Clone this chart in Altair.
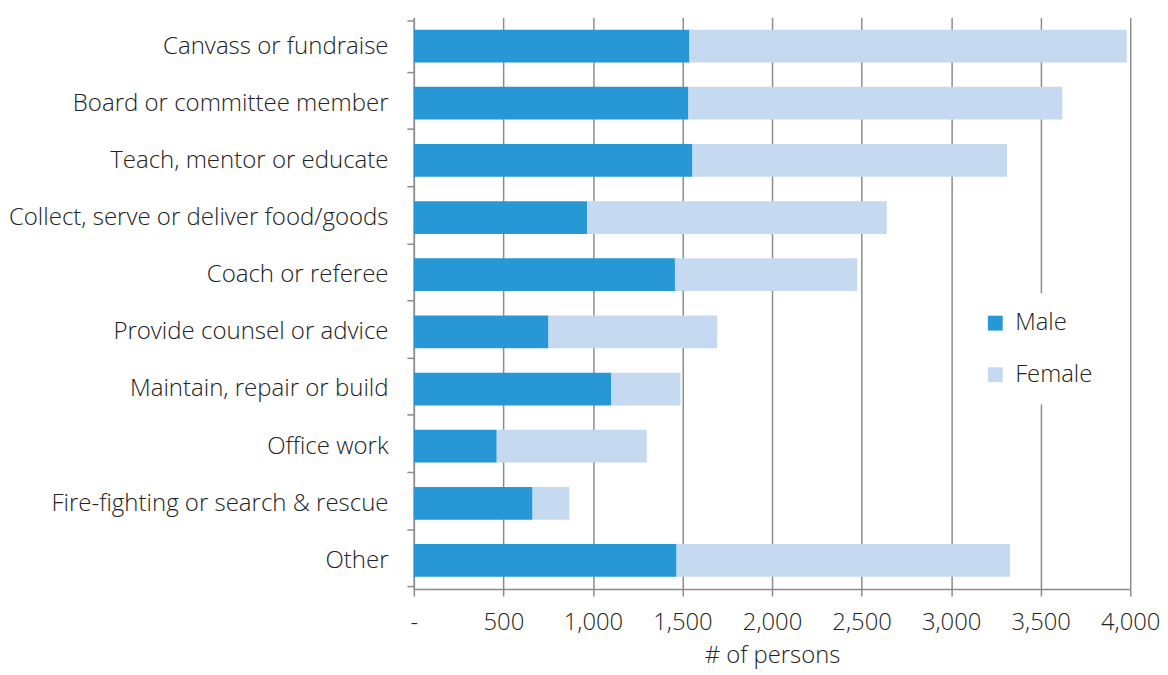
import altair as alt
import pandas as pd

categories = [
    "Canvass or fundraise",
    "Board or committee member",
    "Teach, mentor or educate",
    "Collect, serve or deliver food/goods",
    "Coach or referee",
    "Provide counsel or advice",
    "Maintain, repair or build",
    "Office work",
    "Fire-fighting or search & rescue",
    "Other",
]
male = [1539, 1533, 1556, 968, 1458, 752, 1101, 463, 663, 1467]
female = [2442, 2088, 1756, 1673, 1018, 942, 388, 838, 205, 1862]
series = ["Male", "Female"]
colors = ["#2897d5", "#c5daf0"]

rows = []
for c, m, f in zip(categories, male, female):
    rows.append({"activity": c, "sex": "Male", "persons": m, "ord": 0})
    rows.append({"activity": c, "sex": "Female", "persons": f, "ord": 1})
df = pd.DataFrame(rows)

FONT = "Open Sans"
FS = 24
W = 300
GRAY = "#8c8c8c"
TXT = "#222222"

chart = alt.Chart(df).mark_bar(size=33).encode(
    y=alt.Y(
        "activity:N",
        sort=categories,
        title=None,
        axis=alt.Axis(
            labelFontSize=24.2,
            labelFont=FONT,
            labelFontWeight=W,
            labelColor=TXT,
            labelPadding=19,
            tickBand="extent",
            tickSize=7,
            tickColor=GRAY,
            tickWidth=1.5,
            domainColor=GRAY,
            domainWidth=1.5,
            grid=False,
            labelLimit=600,
        ),
    ),
    x=alt.X(
        "persons:Q",
        stack="zero",
        scale=alt.Scale(domain=[0, 4000], nice=False),
        title="# of persons",
        axis=alt.Axis(
            values=[0, 500, 1000, 1500, 2000, 2500, 3000, 3500, 4000],
            labelExpr="datum.value == 0 ? '-' : format(datum.value, ',')",
            labelFontSize=FS,
            labelFont=FONT,
            labelFontWeight=W,
            labelColor=TXT,
            labelPadding=15,
            labelFlush=False,
            labelOverlap=False,
            tickSize=7,
            tickColor=GRAY,
            tickWidth=1.5,
            domainColor=GRAY,
            domainWidth=1.5,
            grid=True,
            gridColor=GRAY,
            gridWidth=1.5,
            titleFont=FONT,
            titleFontSize=FS,
            titleFontWeight=W,
            titleColor=TXT,
            titlePadding=9,
        ),
    ),
    color=alt.Color(
        "sex:N",
        scale=alt.Scale(domain=series, range=colors),
        legend=alt.Legend(
            title=None,
            orient="none",
            legendX=556,
            legendY=278,
            fillColor="white",
            padding=18,
            symbolType="square",
            symbolSize=225,
            symbolStrokeWidth=0,
            labelFont=FONT,
            labelFontSize=FS,
            labelFontWeight=W,
            labelColor=TXT,
            rowPadding=28,
            labelOffset=8,
        ),
    ),
    order=alt.Order("ord:Q"),
).properties(
    width=722,
    height=576,
    padding={"top": -5, "left": 0, "right": 0, "bottom": 0},
).configure_view(stroke=None)

chart.save("out.html", embed_options={"renderer": "svg", "actions": False})
